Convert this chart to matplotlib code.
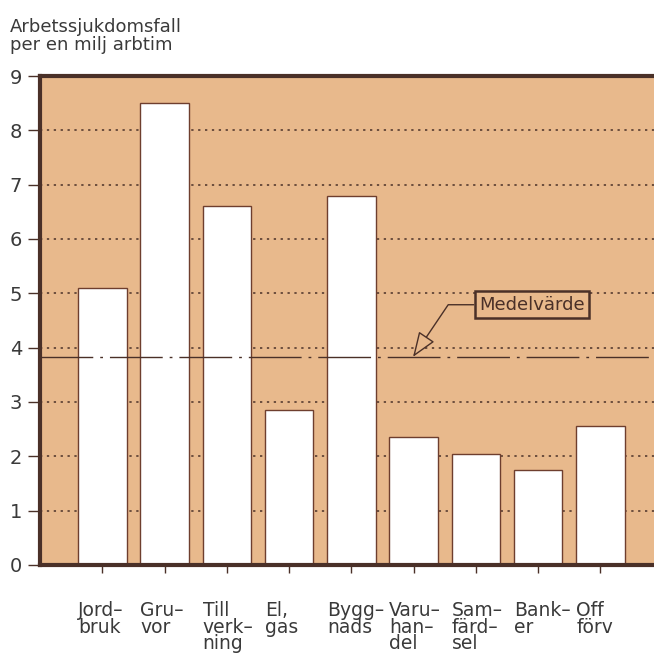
import matplotlib
matplotlib.use('Agg')
import matplotlib.pyplot as plt
import matplotlib.transforms as mtransforms

# data
branscher = ['Jord–\nbruk', 'Gru–\nvor', 'Till\nverk–\nning', 'El,\ngas', 'Bygg–\nnads',
             'Varu–\nhan–\ndel', 'Sam–\nfärd–\nsel', 'Bank–\ner', 'Off\nförv']
fall = [5.1, 8.5, 6.6, 2.85, 6.8, 2.35, 2.05, 1.75, 2.55]
medel = 3.83
y_ticks = [0, 1, 2, 3, 4, 5, 6, 7, 8, 9]

tan = '#E8B98C'
brun = '#4A3028'
kant = '#6E3E2E'

plt.rcParams['font.family'] = ['DejaVu Sans']

fig = plt.figure(figsize=(6.54, 6.53), dpi=100)
ax = fig.add_axes([0.0612, 0.1348, 0.9388, 0.7488])
ax.set_facecolor(tan)

X = list(range(1, len(fall) + 1))
ax.set_xlim(0, 9.86)
ax.set_ylim(0, 9)

# dotted grid
for y in y_ticks[1:-1]:
    ax.axhline(y, color=brun, lw=1.1, ls=(0, (1.5, 3)), zorder=1)

ax.bar(X, fall, width=0.78, color='white', edgecolor=kant, linewidth=1.0, zorder=2)

# mean value line
ax.axhline(medel, color=brun, lw=1.0, ls=(0, (38, 5, 2, 5)), zorder=3)

ax.annotate('Medelvärde', xy=(5.99, medel), xytext=(7.9, 4.79),
            fontsize=13, color=brun, ha='center', va='center', zorder=4,
            bbox=dict(boxstyle='square,pad=0.25', fc=tan, ec=brun, lw=1.8),
            arrowprops=dict(arrowstyle='-|>,head_length=1.2,head_width=0.45',
                            fc=tan, ec=brun, lw=1.0,
                            connectionstyle='angle,angleA=0,angleB=56,rad=0',
                            shrinkA=0, shrinkB=0))

for s in ['left', 'top', 'bottom']:
    ax.spines[s].set_color(brun)
    ax.spines[s].set_linewidth(3)
ax.spines['right'].set_visible(False)

ax.set_yticks(y_ticks)
ax.tick_params(axis='y', length=9, width=1.0, color=brun, labelsize=14,
               labelcolor='#3a3a3a', pad=4)
ax.set_xticks(X)
ax.set_xticklabels([])
ax.tick_params(axis='x', length=6, width=1.0, color=brun, direction='out')

trans = mtransforms.blended_transform_factory(ax.transData, fig.transFigure)
for xi, lab in zip(X, branscher):
    ax.text(xi - 0.39, 0.079, lab, transform=trans, ha='left', va='top',
            fontsize=13.5, color='#3a3a3a', linespacing=0.82)

fig.text(0.015, 0.972, 'Arbetssjukdomsfall\nper en milj arbtim', ha='left', va='top',
         fontsize=13, color='#3a3a3a', linespacing=0.95)

fig.savefig('out.png', dpi=100, facecolor='white')
